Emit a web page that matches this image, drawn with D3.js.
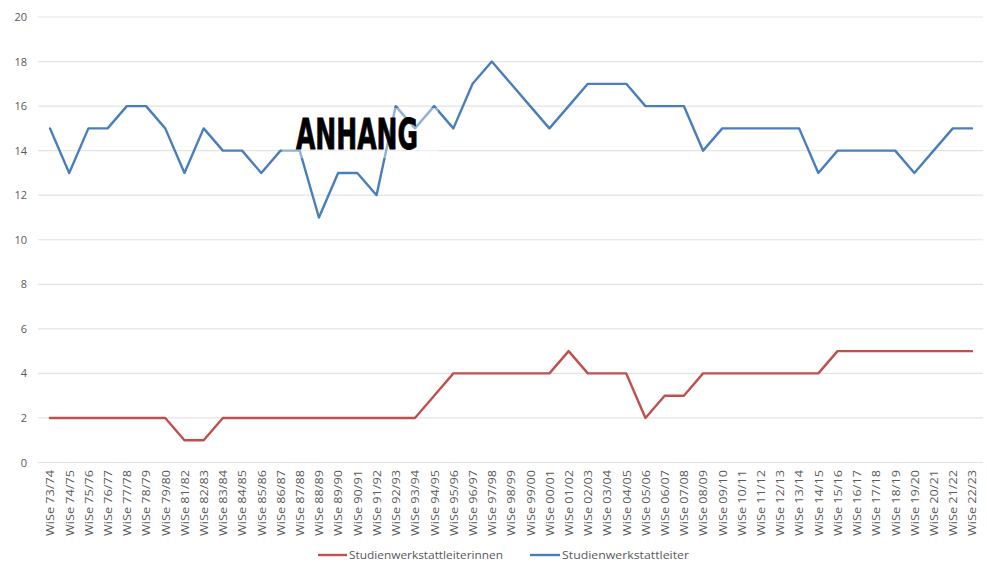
<!DOCTYPE html>
<html>
<head>
<meta charset="utf-8">
<script src="https://cdn.jsdelivr.net/npm/d3@7"></script>
<style>
  html, body { margin: 0; padding: 0; background: #fff; }
  svg { display: block; }
</style>
</head>
<body>
<svg id="chart" width="987" height="566"></svg>
<script>
const categories = [
  "WiSe 73/74","WiSe 74/75","WiSe 75/76","WiSe 76/77","WiSe 77/78","WiSe 78/79","WiSe 79/80",
  "WiSe 81/82","WiSe 82/83","WiSe 83/84","WiSe 84/85","WiSe 85/86","WiSe 86/87","WiSe 87/88",
  "WiSe 88/89","WiSe 89/90","WiSe 90/91","WiSe 91/92","WiSe 92/93","WiSe 93/94","WiSe 94/95",
  "WiSe 95/96","WiSe 96/97","WiSe 97/98","WiSe 98/99","WiSe 99/00","WiSe 00/01","WiSe 01/02",
  "WiSe 02/03","WiSe 03/04","WiSe 04/05","WiSe 05/06","WiSe 06/07","WiSe 07/08","WiSe 08/09",
  "WiSe 09/10","WiSe 10/11","WiSe 11/12","WiSe 12/13","WiSe 13/14","WiSe 14/15","WiSe 15/16",
  "WiSe 16/17","WiSe 17/18","WiSe 18/19","WiSe 19/20","WiSe 20/21","WiSe 21/22","WiSe 22/23"
];
const leiterinnen = [
  2,2,2,2,2,2,2,
  1,1,2,2,2,2,2,
  2,2,2,2,2,2,3,
  4,4,4,4,4,4,5,
  4,4,4,2,3,3,4,
  4,4,4,4,4,4,5,
  5,5,5,5,5,5,5
];
const leiter = [
  15,13,15,15,16,16,15,
  13,15,14,14,13,14,14,
  11,13,13,12,16,15,16,
  15,17,18,17,16,15,16,
  17,17,17,16,16,16,14,
  15,15,15,15,15,13,14,
  14,14,14,13,14,15,15
];
const yTicks = [0,2,4,6,8,10,12,14,16,18,20];
const seriesNames = ["Studienwerkstattleiterinnen", "Studienwerkstattleiter"];
const overlayText = "ANHANG";

const svg = d3.select("#chart");
const colors = ["#c0504d", "#4a7ebb"];
const fontFam = "'Open Sans', 'Liberation Sans', sans-serif";

const x = d3.scalePoint().domain(categories).range([50, 972]);
const y = d3.scaleLinear().domain([0, 20]).range([462.5, 17]);

// gridlines
svg.append("g").selectAll("line").data(yTicks).join("line")
  .attr("x1", 38).attr("x2", 983)
  .attr("y1", d => y(d)).attr("y2", d => y(d))
  .attr("stroke", "#e3e3e3").attr("stroke-width", 1.2);

// y axis labels
const yAxis = d3.axisLeft(y).tickValues(yTicks).tickSize(0).tickPadding(0);
const gy = svg.append("g").attr("transform", "translate(27,0)").call(yAxis);
gy.select(".domain").remove();
gy.selectAll("text").attr("font-family", fontFam).attr("font-size", 11).attr("fill", "#595959");

// x axis labels
const xAxis = d3.axisBottom(x).tickSize(0).tickPadding(0);
const gx = svg.append("g").attr("transform", "translate(0,470)").call(xAxis);
gx.select(".domain").remove();
gx.selectAll("text")
  .attr("font-family", fontFam).attr("font-size", 11).attr("fill", "#595959")
  .attr("transform", "rotate(-90)")
  .attr("text-anchor", "end")
  .attr("x", 0).attr("y", 0).attr("dy", "0.35em")
  .attr("textLength", 66).attr("lengthAdjust", "spacingAndGlyphs");

// lines
const line = d3.line().x((d, i) => x(categories[i])).y(d => y(d));
[leiterinnen, leiter].forEach((s, k) => {
  svg.append("path").datum(s)
    .attr("fill", "none").attr("stroke", colors[k]).attr("stroke-width", 2.4)
    .attr("stroke-linejoin", "round").attr("stroke-linecap", "round")
    .attr("d", line);
});

// legend
const legendItems = [
  {name: seriesNames[0], color: colors[0], x1: 318, x2: 347, tx: 349, tl: 154},
  {name: seriesNames[1], color: colors[1], x1: 530, x2: 560, tx: 562, tl: 127}
];
const lg = svg.append("g");
legendItems.forEach(it => {
  lg.append("line").attr("x1", it.x1).attr("x2", it.x2).attr("y1", 555).attr("y2", 555)
    .attr("stroke", it.color).attr("stroke-width", 2.4);
  lg.append("text").attr("x", it.tx).attr("y", 555).attr("dy", "0.35em")
    .attr("font-family", fontFam).attr("font-size", 11).attr("fill", "#595959")
    .attr("textLength", it.tl).attr("lengthAdjust", "spacingAndGlyphs")
    .text(it.name);
});

// overlay
svg.append("rect").attr("x", 282).attr("y", 108).attr("width", 156).attr("height", 50)
  .attr("fill", "#fff").attr("opacity", 0.4);
svg.append("text").attr("x", 296).attr("y", 149)
  .attr("font-family", "'DejaVu Sans Condensed', 'Liberation Sans Narrow', 'DejaVu Sans', sans-serif")
  .attr("font-weight", "bold").attr("font-size", 43).attr("fill", "#000")
  .attr("stroke", "#000").attr("stroke-width", 0.8)
  .attr("textLength", 122).attr("lengthAdjust", "spacingAndGlyphs")
  .text(overlayText);
</script>
</body>
</html>
